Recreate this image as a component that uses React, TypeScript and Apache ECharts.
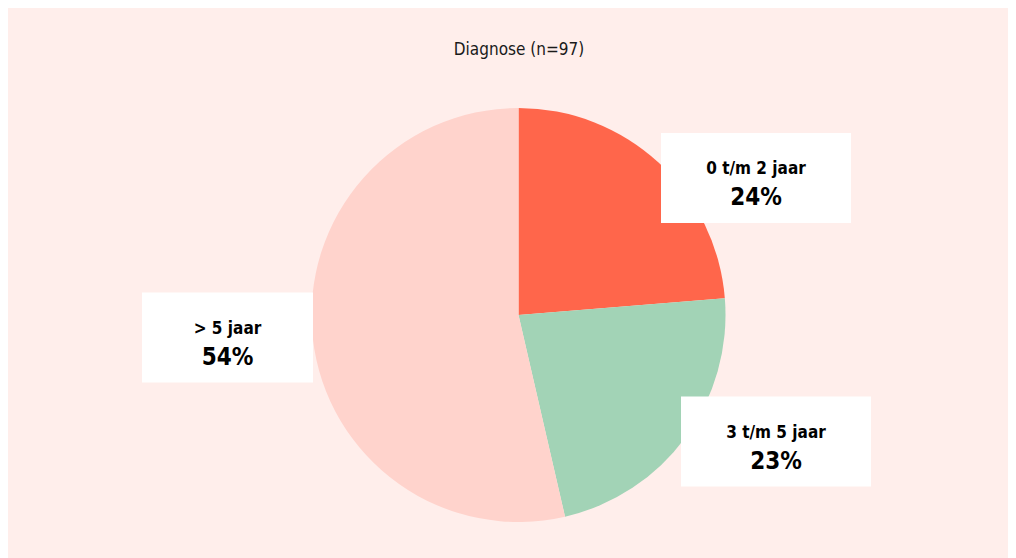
import React, { useEffect, useRef } from "react";
import * as echarts from "echarts";

const titleText = "Diagnose (n=97)";
const categories = ["0 t/m 2 jaar", "3 t/m 5 jaar", "> 5 jaar"];
const counts = [23, 22, 52];
const colors = ["#ff664b", "#a2d3b6", "#ffd3cc"];
// label box centres (px within chart) and box widths
const labelCenters = [
  [748, 170],
  [768, 433.5],
  [219.5, 329.5],
];
const labelWidths = [190, 190, 171];

const FONT = "'Liberation Sans Narrow', 'DejaVu Sans Condensed', Roboto, sans-serif";

export default function App() {
  const ref = useRef<HTMLDivElement>(null);
  useEffect(() => {
    if (!ref.current) return;
    const chart = echarts.init(ref.current, null, { renderer: "svg" });
    const total = counts.reduce((a, b) => a + b, 0);
    chart.setOption({
      animation: false,
      backgroundColor: "#ffeeeb",
      title: {
        text: titleText,
        left: 506,
        textAlign: "center",
        top: 27,
        textStyle: { fontFamily: FONT, fontSize: 17, fontWeight: "normal", color: "#1a1a1a" },
      },
      series: [
        {
          type: "pie",
          center: [510.5, 307],
          radius: [0, 207],
          startAngle: 90,
          clockwise: true,
          label: {
            show: true,
            position: "outside",
            backgroundColor: "#ffffff",
            padding: [24, 0, 8, 0],
            formatter: (p: any) => `{a|${p.name}}\n{b|${Math.round((p.value / total) * 100)}%}`,
            rich: {
              a: { fontFamily: FONT, fontSize: 17, fontWeight: "bold", color: "#000", lineHeight: 22, align: "center" },
              b: { fontFamily: FONT, fontSize: 24, fontWeight: "bold", color: "#000", lineHeight: 36, align: "center" },
            },
          },
          labelLine: { show: false },
          labelLayout: (params: any) => ({
            x: labelCenters[params.dataIndex][0],
            y: labelCenters[params.dataIndex][1],
            align: "center",
            verticalAlign: "middle",
          }),
          emphasis: { disabled: true },
          data: categories.map((c, i) => ({
            name: c,
            value: counts[i],
            itemStyle: { color: colors[i] },
            label: { width: labelWidths[i] },
          })),
        },
      ],
    });
    return () => chart.dispose();
  }, []);
  return <div ref={ref} style={{ width: 1008, height: 550 }} />;
}
